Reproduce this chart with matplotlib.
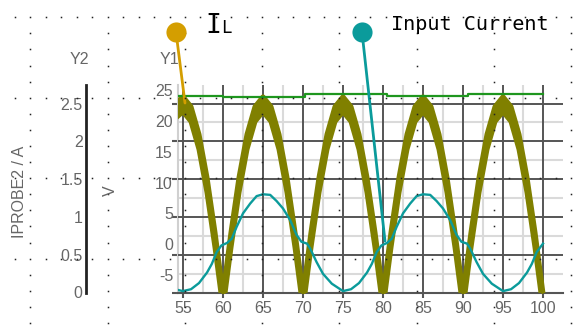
import numpy as np
import matplotlib
matplotlib.use("Agg")
import matplotlib.pyplot as plt

plt.rcParams['font.family'] = ['Liberation Sans Narrow', 'Liberation Sans', 'DejaVu Sans']

# traces (x = time axis, values in Y1 volts)
il_t = [54.3] + list(range(55, 101))
il_v = [23.1,
        23.9, 22.3, 17.8, 10.8, 1.9, -8.0, 1.9, 10.8, 17.8, 22.3,
        23.9, 22.3, 17.8, 10.8, 1.9, -8.0, 1.9, 10.8, 17.8, 22.3,
        23.9, 22.3, 17.8, 10.8, 1.9, -8.0, 1.9, 10.8, 17.8, 22.3,
        23.9, 22.3, 17.8, 10.8, 1.9, -8.0, 1.9, 10.8, 17.8, 22.3,
        23.9, 22.3, 17.8, 10.8, 1.9, -8.0]
il_ripple = 2.4

in_t = [54.3, 55, 56, 57, 58, 58.6, 59.2, 59.8, 60.5, 61.1,
        61.7, 62.5, 63.4, 64.2, 65, 65.9, 66.7, 67.5, 68.4, 69.2,
        69.8, 70.5, 70.9, 71.7, 72.5, 73.6, 75, 76, 77, 78,
        78.6, 79.2, 79.8, 80.5, 81.1, 81.7, 82.5, 83.4, 84.2, 85,
        85.9, 86.7, 87.5, 88.4, 89.2, 89.8, 90.5, 90.9, 91.7, 92.5,
        93.6, 95, 96, 97, 98, 98.6, 99.2, 100]
in_v = [-7.4, -7.6, -7.3, -6.3, -4.6, -3.2, -1.3, -0.2, 0.2, 0.9,
        2.8, 5.0, 6.6, 7.8, 8.1, 8.0, 7.0, 5.8, 3.9, 1.5,
        0.4, 0.1, -0.7, -2.9, -4.8, -6.4, -7.6, -7.3, -6.3, -4.6,
        -3.2, -1.3, -0.2, 0.2, 0.9, 2.8, 5.0, 6.6, 7.8, 8.1,
        8.0, 7.0, 5.8, 3.9, 1.5, 0.4, 0.1, -0.7, -2.9, -4.8,
        -6.4, -7.6, -7.3, -6.3, -4.6, -3.2, -1.3, 0.1]

peak_t = [54.3, 60, 70.25, 80.5, 90.6, 100]
peak_v = [24.1, 23.9, 24.3, 24.05, 24.3, 24.3]

x_ticks = [55, 60, 65, 70, 75, 80, 85, 90, 95, 100]
y1_ticks = [-5, 0, 5, 10, 15, 20, 25]
y2_ticks = [0, 0.5, 1, 1.5, 2, 2.5]
y2_labels = ['0', '0.5', '1', '1.5', '2', '2.5']

dark = '#555555'
light = '#dadada'
gray = '#666666'
olive = '#808000'
teal = '#0b9b9b'
green = '#1e961e'
orange = '#d49e00'

W, H = 586, 326
fig = plt.figure(figsize=(W / 100, H / 100), dpi=100)
rect = [178 / W, 33.5 / H, 385 / W, 207.5 / H]
xlim = (54.375, 102.5)

# base axes: Y2 scale, light grid, tick marks, x labels
ax = fig.add_axes(rect, zorder=0)
ax.set_xlim(xlim)
ax.set_ylim(0, 2.745)
ax.set_xticks(x_ticks, [str(v) for v in x_ticks])
ax.set_xticks([57.5, 62.5, 67.5, 72.5, 77.5, 82.5, 87.5, 92.5, 97.5], minor=True)
ax.set_yticks(y2_ticks)
ax.set_yticks([0.25, 0.75, 1.25, 1.75, 2.25], minor=True)
ax.grid(which='minor', color=light, lw=1.5)
ax.tick_params(which='minor', length=0)
ax.tick_params(axis='x', which='major', direction='out', length=3.6, width=1.5,
               color=dark, labelsize=11.5, labelcolor=gray, pad=2.5)
ax.tick_params(axis='y', which='major', direction='out', length=4.3, width=1.5,
               color=dark, labelleft=False)
for s in ['top', 'right']:
    ax.spines[s].set_visible(False)
ax.spines['bottom'].set_color(dark)
ax.spines['bottom'].set_linewidth(1.5)
ax.spines['left'].set_color('#d0d0d0')
ax.spines['left'].set_linewidth(1.5)

# Y2 axis sitting far left
sec = ax.secondary_yaxis(-92 / 385)
sec.set_yticks(y2_ticks, y2_labels)
sec.tick_params(length=0, pad=2.5, labelsize=11.5, labelcolor=gray)
sec.spines['left'].set_color('#222222')
sec.spines['left'].set_linewidth(2)

# dark major grid on top of the light one
axg = fig.add_axes(rect, zorder=1)
axg.set_xlim(xlim)
axg.set_ylim(ax.get_ylim())
axg.set_xticks(x_ticks)
axg.set_yticks(y2_ticks)
axg.grid(which='major', color=dark, lw=1.4)
axg.tick_params(length=0, labelleft=False, labelbottom=False)
axg.patch.set_visible(False)
for s in axg.spines.values():
    s.set_visible(False)

# Y1 axis with the traces
ax1 = fig.add_axes(rect, zorder=2)
ax1.set_xlim(xlim)
ax1.set_ylim(-7.83, 25.82)
ax1.set_yticks(y1_ticks, [str(v) for v in y1_ticks])
ax1.tick_params(axis='y', length=0, pad=3.6, labelsize=11.5, labelcolor=gray)
ax1.tick_params(axis='x', bottom=False, labelbottom=False)
ax1.patch.set_visible(False)
for s in ax1.spines.values():
    s.set_visible(False)

il_low = np.array(il_v) - il_ripple
ax1.fill_between(il_t, il_low, il_v, color=olive, lw=0)
ax1.plot(il_t, il_v, color=olive, lw=3.6)
ax1.plot(il_t, il_low, color=olive, lw=3.6)
ax1.plot(in_t, in_v, color=teal, lw=1.7)
ax1.step(peak_t, peak_v, where='post', color=green, lw=1.6)

ax1.annotate('', xy=(55.25, 22.9), xytext=(176, H - 32), textcoords='figure pixels',
             arrowprops=dict(arrowstyle='-', color=orange, lw=2, shrinkA=0, shrinkB=0))
ax1.annotate('', xy=(80.25, 0.5), xytext=(362, H - 32), textcoords='figure pixels',
             arrowprops=dict(arrowstyle='-', color=teal, lw=2, shrinkA=0, shrinkB=0))

# overlay in pixel coordinates: dotted canvas grid, markers and labels
ov = fig.add_axes([0, 0, 1, 1], zorder=10)
ov.set_xlim(0, W)
ov.set_ylim(H, 0)
ov.axis('off')
ov.patch.set_visible(False)

cols = 15 + 15.45 * np.arange(38)
rows = 17.3 + 16.09 * np.arange(20)
for k, yy in enumerate(rows):
    xs = cols if k % 5 == 0 else cols[1::5]
    ov.plot(xs, [yy] * len(xs), ls='none', marker='s', ms=1.1, mew=0, color='#222222')

ov.plot([176], [32], 'o', ms=14.5, color=orange, mew=0)
ov.plot([362], [32], 'o', ms=14.5, color=teal, mew=0)

mono = 'DejaVu Sans Mono'
ov.text(213.5, 33, 'I', family=mono, fontsize=19, ha='center', va='baseline')
ov.text(226, 33, 'L', family=mono, fontsize=12.5, ha='center', va='baseline')
ov.text(391, 30, 'Input Current', family=mono, fontsize=14.5, ha='left', va='baseline')

ov.text(79, 59, 'Y2', fontsize=11.5, color=gray, ha='center', va='center')
ov.text(169, 59, 'Y1', fontsize=11.5, color=gray, ha='center', va='center')
ov.text(19.5, 192, 'IPROBE2 / A', fontsize=11.5, color=gray, ha='center', va='center', rotation=90)
ov.text(110, 191, 'V', fontsize=11.5, color=gray, ha='center', va='center', rotation=90)

fig.savefig('out.png', dpi=100)
